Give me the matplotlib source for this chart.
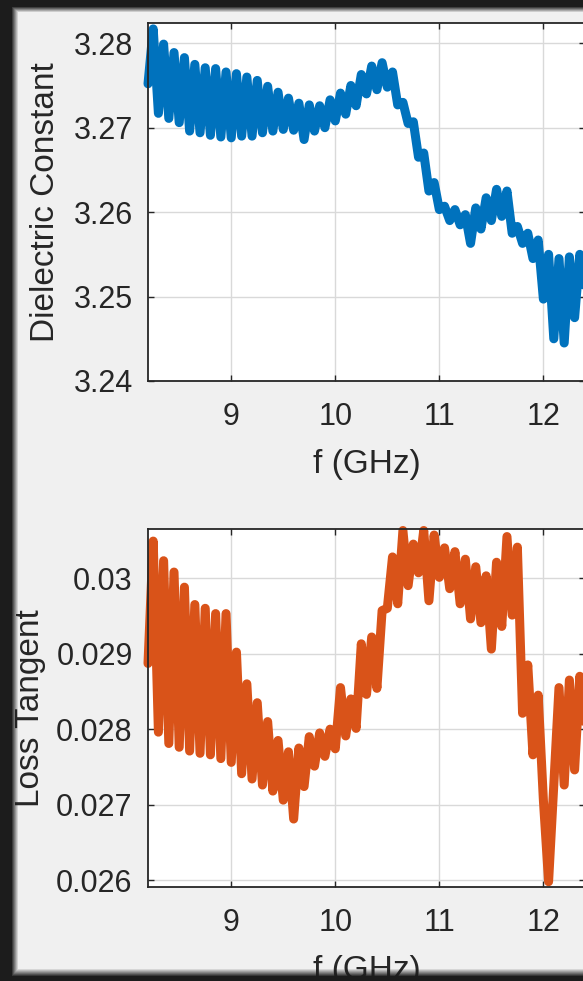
import numpy as np
import matplotlib
matplotlib.use("Agg")
import matplotlib.pyplot as plt

plt.rcParams['font.family'] = ['Liberation Sans', 'DejaVu Sans']

# ---------------- data ----------------
# sampling grid of the measurement (GHz)
freq = np.round(np.arange(8.20, 12.4001, 0.05), 2)

eps_r = [3.2752, 3.2817, 3.2717, 3.2799, 3.2711, 3.2789, 3.2706, 3.2783, 3.2696, 3.2775,
         3.2694, 3.2771, 3.2691, 3.2770, 3.2689, 3.2766, 3.2688, 3.2764, 3.2690, 3.2760,
         3.2690, 3.2756, 3.2694, 3.2749, 3.2696, 3.2742, 3.2698, 3.2735, 3.2697, 3.2729,
         3.2686, 3.2727, 3.2696, 3.2726, 3.2700, 3.2733, 3.2708, 3.2741, 3.2716, 3.2750,
         3.2726, 3.2763, 3.2740, 3.2773, 3.2745, 3.2777, 3.2748, 3.2766, 3.2727, 3.2730,
         3.2705, 3.2707, 3.2665, 3.2670, 3.2625, 3.2635, 3.2603, 3.2607, 3.2590, 3.2603,
         3.2585, 3.2597, 3.2563, 3.2605, 3.2580, 3.2617, 3.2590, 3.2627, 3.2595, 3.2625,
         3.2575, 3.2583, 3.2563, 3.2575, 3.2545, 3.2567, 3.2497, 3.2550, 3.2450, 3.2545,
         3.2445, 3.2547, 3.2475, 3.2550, 3.2505]

tan_d = [0.02887, 0.03049, 0.02796, 0.03023, 0.02781, 0.03008, 0.02776, 0.02988, 0.02771, 0.02965,
         0.02768, 0.02960, 0.02766, 0.02953, 0.02761, 0.02953, 0.02756, 0.02902, 0.02741, 0.02860,
         0.02734, 0.02835, 0.02726, 0.02810, 0.02718, 0.02785, 0.02706, 0.02770, 0.02681, 0.02775,
         0.02724, 0.02790, 0.02751, 0.02795, 0.02764, 0.02800, 0.02774, 0.02855, 0.02791, 0.02840,
         0.02801, 0.02913, 0.02846, 0.02922, 0.02854, 0.02957, 0.02960, 0.03028, 0.02966, 0.03063,
         0.02990, 0.03045, 0.03007, 0.03063, 0.02970, 0.03057, 0.03001, 0.03040, 0.02986, 0.03035,
         0.02966, 0.03025, 0.02946, 0.03015, 0.02941, 0.03003, 0.02906, 0.03021, 0.02936, 0.03055,
         0.02951, 0.03041, 0.02821, 0.02885, 0.02766, 0.02845, 0.02706, 0.02598, 0.02726, 0.02855,
         0.02726, 0.02865, 0.02746, 0.02870, 0.02796]

x_ticks = [9, 10, 11, 12]
eps_ticks = [3.24, 3.25, 3.26, 3.27, 3.28]
eps_ticklabels = ['3.24', '3.25', '3.26', '3.27', '3.28']
tan_ticks = [0.026, 0.027, 0.028, 0.029, 0.030]
tan_ticklabels = ['0.026', '0.027', '0.028', '0.029', '0.03']

# ---------------- figure ----------------
W, H = 583, 981
fig = plt.figure(figsize=(W / 100, H / 100), dpi=100)
fig.patch.set_facecolor('#f0f0f0')

TXT = '#262626'


def px_box(l, t, r, b):
    return [l / W, 1 - b / H, (r - l) / W, (b - t) / H]


def style(ax):
    ax.set_facecolor('white')
    ax.grid(True, color='#d9d9d9', linewidth=1.0)
    ax.set_axisbelow(True)
    ax.tick_params(direction='in', top=True, right=True, length=4, width=1.0,
                   color=TXT, labelcolor=TXT, labelsize=22)
    ax.tick_params(axis='x', pad=15)
    ax.tick_params(axis='y', pad=11)
    for s in ax.spines.values():
        s.set_color(TXT)
        s.set_linewidth(1.3)
    ax.set_xlim(8.2, 12.4)
    ax.set_xticks(x_ticks)
    ax.set_xticklabels([str(v) for v in x_ticks])


LW = 6.5

ax1 = fig.add_axes(px_box(148, 23, 585, 381))
style(ax1)
ax1.plot(freq, eps_r, color='#0072BD', linewidth=LW, clip_on=False,
         solid_joinstyle='round', solid_capstyle='round')
ax1.set_ylim(3.24, 3.2824)
ax1.set_yticks(eps_ticks)
ax1.set_yticklabels(eps_ticklabels)
ax1.set_xlabel('f (GHz)', fontsize=24, color=TXT, va='center')
ax1.xaxis.set_label_coords(0.5, -0.232)
ax1.set_ylabel('Dielectric Constant', fontsize=24, color=TXT, va='center', ha='center')
ax1.yaxis.set_label_coords((45 - 148) / 437, 0.5)

ax2 = fig.add_axes(px_box(148, 529, 585, 887))
style(ax2)
ax2.plot(freq, tan_d, color='#D95319', linewidth=LW, clip_on=False,
         solid_joinstyle='round', solid_capstyle='round')
ax2.set_ylim(0.02591, 0.03065)
ax2.set_yticks(tan_ticks)
ax2.set_yticklabels(tan_ticklabels)
ax2.set_xlabel('f (GHz)', fontsize=24, color=TXT, va='center')
ax2.xaxis.set_label_coords(0.5, -0.232)
ax2.set_ylabel('Loss Tangent', fontsize=24, color=TXT, va='center', ha='center')
ax2.yaxis.set_label_coords((30 - 148) / 437, 0.5)

# ---------------- dark screenshot frame ----------------
yy, xx = np.mgrid[0:H, 0:W]
a_left = np.clip((18 - xx) / 7.0, 0, 1)
a_top = np.clip((12 - yy) / 6.0, 0, 1)
a_bot = np.clip((yy - 968) / 8.0, 0, 1)
alpha = np.maximum(np.maximum(a_left, a_top), a_bot)
frame = np.zeros((H, W, 4))
frame[..., :3] = 0.11
frame[..., 3] = alpha
axf = fig.add_axes([0, 0, 1, 1], zorder=20)
axf.imshow(frame, extent=[0, W, H, 0], aspect='auto', interpolation='bilinear')
axf.set_xlim(0, W)
axf.set_ylim(H, 0)
axf.axis('off')

fig.savefig('out.png', dpi=100, facecolor=fig.get_facecolor())
